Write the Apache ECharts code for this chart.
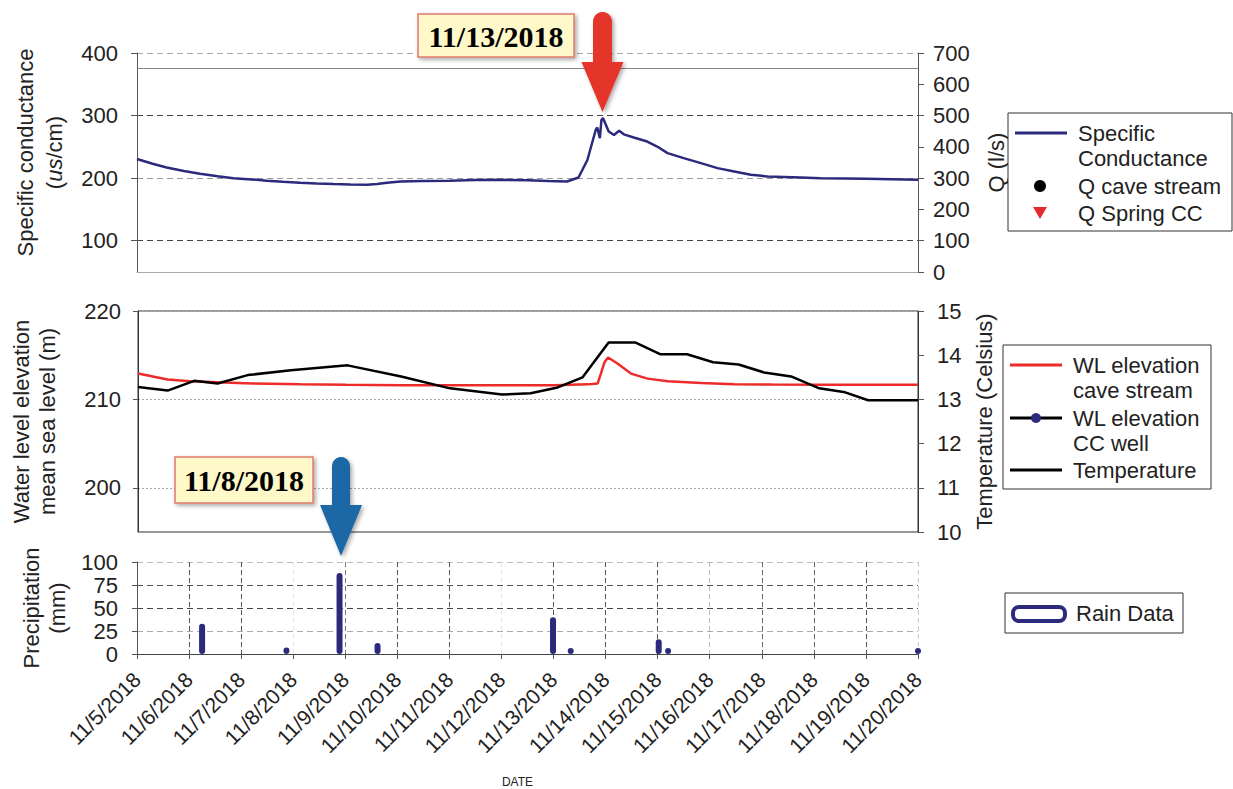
<!DOCTYPE html>
<html><head><meta charset="utf-8">
<script src="https://cdn.jsdelivr.net/npm/echarts@6/dist/echarts.min.js"></script>
<style>html,body{margin:0;padding:0;background:#fff}#c{width:1233px;height:789px}</style>
</head><body><div id="c"></div><script>
// ---------- DATA (x = day of November 2018, fractional) ----------
const xTickDays = [5,6,7,8,9,10,11,12,13,14,15,16,17,18,19,20];
const xTickLabels = ['11/5/2018','11/6/2018','11/7/2018','11/8/2018','11/9/2018','11/10/2018','11/11/2018','11/12/2018','11/13/2018','11/14/2018','11/15/2018','11/16/2018','11/17/2018','11/18/2018','11/19/2018','11/20/2018'];

const scDays   = [5.0, 5.3, 5.57, 5.9, 6.21, 6.55, 6.85, 7.2, 7.49, 7.8, 8.13, 8.45, 8.77, 9.1, 9.42, 9.61, 9.8, 10.06, 10.5, 11.0, 11.5, 11.98, 12.5, 12.9, 13.26, 13.48, 13.65, 13.81, 13.84, 13.89, 13.92, 13.95, 14.06, 14.16, 14.26, 14.35, 14.54, 14.8, 14.99, 15.19, 15.5, 15.83, 16.15, 16.47, 16.79, 17.11, 17.75, 18.13, 18.6, 19.0, 19.5, 20.0];
const scValues = [230.5, 223, 217, 211.5, 207, 203, 200, 198, 196, 194.2, 192.7, 191.5, 190.6, 190, 189.5, 190.6, 192.5, 194.7, 195.5, 196, 197, 197.5, 196.5, 195.5, 194.7, 201, 229, 277, 281, 264, 293, 296, 274.5, 269, 275.6, 270, 265, 258.5, 250.5, 240, 232, 224, 216, 210.7, 205.4, 202.7, 201, 200, 199.5, 199, 198.3, 197.5];
const scRefLine = 376;   // upper solid reference line in the top panel (us/cm)

const qCaveStream = [];   // no values shown
const qSpringCC = [];     // no values shown

const wlCaveDays   = [5.0, 5.57, 6.0, 6.53, 7.2, 8.13, 9.0, 10.06, 11.0, 12.0, 13.0, 13.65, 13.84, 13.9, 13.97, 14.04, 14.22, 14.48, 14.8, 15.19, 15.83, 16.47, 17.2, 18.13, 19.0, 20.0];
const wlCaveValues = [212.92, 212.24, 212.05, 211.93, 211.8, 211.7, 211.65, 211.6, 211.6, 211.6, 211.6, 211.7, 211.8, 212.9, 214.2, 214.74, 214.06, 212.92, 212.35, 212.05, 211.85, 211.7, 211.68, 211.67, 211.67, 211.67];
const wlCCWell = [];      // no values shown

const tempDays   = [5.0, 5.57, 6.08, 6.53, 7.11, 7.94, 9.03, 10.06, 11.0, 12.0, 12.55, 13.07, 13.55, 14.05, 14.56, 15.05, 15.56, 16.06, 16.55, 17.04, 17.56, 18.1, 18.6, 19.04, 20.0];
const tempValues = [13.28, 13.2, 13.42, 13.36, 13.55, 13.66, 13.77, 13.52, 13.25, 13.11, 13.14, 13.27, 13.5, 14.29, 14.29, 14.02, 14.02, 13.84, 13.79, 13.61, 13.52, 13.25, 13.16, 12.98, 12.98];

const rainDays   = [6.25, 7.87, 8.89, 9.62, 12.99, 13.33, 15.02, 15.2, 20.0];
const rainValues = [33, 7, 88, 12, 40, 1, 16, 1, 1];

const scTicks = [100, 200, 300, 400];
const wlTicks = [200, 210, 220];

// ---------- STYLE ----------
const FONT = 'Liberation Sans, Arial, sans-serif';
const SERIF = 'Liberation Serif, Times New Roman, serif';
const TXT = '#222';
const NAVY = '#2b2a7c';
const RED = '#ee2b2b';
const LABEL_SIZE = 22;

const zip = (a, b) => a.map((d, i) => [d, b[i]]);
const chart = echarts.init(document.getElementById('c'), null, {renderer: 'svg'});

function xAxisBase(grid) {
  return {gridIndex: grid, type: 'value', min: 5, max: 20, interval: 1,
    axisLabel: {show: false}, axisTick: {show: false}, splitLine: {show: false},
    axisLine: {show: true, onZero: false, lineStyle: {color: '#aaa'}}};
}
function txt(text, x, y, size) {
  return {type: 'text', silent: true, z: 50, style: {text: text, x: x, y: y,
    fontSize: size, fontFamily: FONT, fill: TXT, align: 'left', verticalAlign: 'middle',
    textAlign: 'left', textVerticalAlign: 'middle'}};
}
function hline(x1, x2, y, color, w) {
  return {type: 'line', silent: true, z: 50, shape: {x1: x1, y1: y, x2: x2, y2: y}, style: {stroke: color, lineWidth: w}};
}
function box(x, y, w, h) {
  return {type: 'rect', silent: true, z: 40, shape: {x: x, y: y, width: w, height: h}, style: {fill: '#fff', stroke: '#333', lineWidth: 1}};
}
// down-pointing block arrow outline with a rounded top (annotation shape)
function arrowPoints(cx, top, shaftW, headTop, headHalf, tip) {
  const r = shaftW / 2, pts = [];
  pts.push([cx - r, headTop]);
  for (let k = 0; k <= 12; k++) {
    const a = Math.PI - Math.PI * k / 12;
    pts.push([cx + r * Math.cos(a), top + r - r * Math.sin(a)]);
  }
  pts.push([cx + r, headTop], [cx + headHalf, headTop], [cx, tip], [cx - headHalf, headTop]);
  return pts;
}
function labelStyle(margin) {
  return {fontSize: LABEL_SIZE, fontFamily: FONT, color: TXT, margin: margin};
}

const shadow = {shadowBlur: 4, shadowColor: 'rgba(0,0,0,0.35)', shadowOffsetX: 2, shadowOffsetY: 2};

const option = {
  backgroundColor: '#fff',
  animation: false,
  grid: [
    {left: 137, right: 315, top: 53, height: 219},
    {left: 137, right: 315, top: 311, height: 221, show: true, borderColor: '#333', borderWidth: 1, backgroundColor: 'transparent'},
    {left: 137, right: 315, top: 562, height: 92}
  ],
  xAxis: [
    xAxisBase(0),
    Object.assign(xAxisBase(1), {axisLine: {show: true, onZero: false, lineStyle: {color: '#999'}}}),
    Object.assign(xAxisBase(2), {
      axisLine: {show: true, onZero: false, lineStyle: {color: '#444'}},
      axisTick: {show: true, length: 5, lineStyle: {color: '#555'}},
      axisLabel: {show: true, rotate: 45, margin: 22, fontSize: 21, fontFamily: FONT, color: TXT,
        formatter: v => xTickLabels[xTickDays.indexOf(v)] || ''},
      splitLine: {show: true, lineStyle: {type: [5, 3], width: 1,
        color: ['#555','#555','#555','#e6e6e6','#777','#555','#555','#e6e6e6','#555','#555','#555','#bbb','#666','#666','#555','#ccc']}},
      name: 'DATE', nameLocation: 'middle', nameGap: 122,
      nameTextStyle: {fontSize: 12, fontFamily: FONT, color: TXT, padding: [0, 20, 0, 0]}
    })
  ],
  yAxis: [
    {gridIndex: 0, type: 'value', position: 'left', min: 50, max: 400,
      axisLine: {show: true, lineStyle: {color: '#555'}},
      axisTick: {show: true, customValues: scTicks, length: 6, lineStyle: {color: '#555'}},
      axisLabel: Object.assign({customValues: scTicks}, labelStyle(19)),
      splitLine: {show: true, lineStyle: {type: [6, 4], color: ['#444', '#999', '#444', '#aaa']}},
      name: 'Specific conductance\n({it|us}/cm)', nameLocation: 'middle', nameRotate: 90, nameGap: 68,
      nameTextStyle: {fontSize: 22, fontFamily: FONT, color: TXT, lineHeight: 29, align: 'center', padding: [0, 0, 0, 20],
        rich: {it: {fontSize: 22, fontFamily: FONT, fontStyle: 'italic', color: TXT, lineHeight: 29}}}},
    {gridIndex: 0, type: 'value', position: 'right', min: 0, max: 700, interval: 100,
      axisLine: {show: true, lineStyle: {color: '#555'}},
      axisTick: {show: true, length: 6, lineStyle: {color: '#555'}},
      axisLabel: labelStyle(15),
      splitLine: {show: false},
      name: 'Q (l/s)', nameLocation: 'middle', nameRotate: 90, nameGap: 67,
      nameTextStyle: {fontSize: 22, fontFamily: FONT, color: TXT}},
    {gridIndex: 1, type: 'value', position: 'left', min: 195, max: 220,
      axisLine: {show: true, lineStyle: {color: '#333'}},
      axisTick: {show: true, customValues: wlTicks, length: 5, lineStyle: {color: '#555'}},
      axisLabel: Object.assign({customValues: wlTicks}, labelStyle(17)),
      splitLine: {show: true, lineStyle: {type: [2, 2], color: '#aaa'}},
      name: 'Water level elevation\nmean sea level (m)', nameLocation: 'middle', nameRotate: 90, nameGap: 78,
      nameTextStyle: {fontSize: 22, fontFamily: FONT, color: TXT, lineHeight: 26, align: 'center'}},
    {gridIndex: 1, type: 'value', position: 'right', min: 10, max: 15, interval: 1,
      axisLine: {show: true, lineStyle: {color: '#333'}},
      axisTick: {show: true, length: 6, lineStyle: {color: '#555'}},
      axisLabel: labelStyle(19),
      splitLine: {show: false},
      name: 'Temperature (Celsius)', nameLocation: 'middle', nameRotate: 90, nameGap: 55,
      nameTextStyle: {fontSize: 22, fontFamily: FONT, color: TXT}},
    {gridIndex: 2, type: 'value', position: 'left', min: 0, max: 100, interval: 25,
      axisLine: {show: true, lineStyle: {color: '#555'}},
      axisTick: {show: true, length: 5, lineStyle: {color: '#555'}},
      axisLabel: labelStyle(19),
      splitLine: {show: true, lineStyle: {type: [6, 4], color: ['#555', '#aaa', '#444', '#555', '#bbb']}},
      name: 'Precipitation\n(mm)', nameLocation: 'middle', nameRotate: 90, nameGap: 60,
      nameTextStyle: {fontSize: 22, fontFamily: FONT, color: TXT, lineHeight: 26, align: 'center'}}
  ],
  series: [
    {name: 'Specific Conductance', type: 'line', xAxisIndex: 0, yAxisIndex: 0, data: zip(scDays, scValues),
      showSymbol: false, lineStyle: {color: NAVY, width: 2.5}, z: 5,
      markLine: {silent: true, symbol: 'none', label: {show: false}, lineStyle: {color: '#888', type: 'solid', width: 1},
        data: [{yAxis: scRefLine}]}},
    {name: 'Q cave stream', type: 'scatter', xAxisIndex: 0, yAxisIndex: 1, data: qCaveStream, itemStyle: {color: '#000'}},
    {name: 'Q Spring CC', type: 'scatter', xAxisIndex: 0, yAxisIndex: 1, data: qSpringCC, symbol: 'triangle', symbolRotate: 180, itemStyle: {color: RED}},
    {name: 'WL elevation cave stream', type: 'line', xAxisIndex: 1, yAxisIndex: 2, data: zip(wlCaveDays, wlCaveValues),
      showSymbol: false, lineStyle: {color: RED, width: 2.5}, z: 4},
    {name: 'WL elevation CC well', type: 'line', xAxisIndex: 1, yAxisIndex: 2, data: wlCCWell,
      lineStyle: {color: '#000', width: 2.5}, itemStyle: {color: NAVY}},
    {name: 'Temperature', type: 'line', xAxisIndex: 1, yAxisIndex: 3, data: zip(tempDays, tempValues),
      showSymbol: false, lineStyle: {color: '#000', width: 2.5}, z: 5},
    {name: 'Rain Data', type: 'bar', xAxisIndex: 2, yAxisIndex: 4, data: zip(rainDays, rainValues),
      barWidth: 6, barMinHeight: 6, itemStyle: {color: NAVY, borderRadius: 3}, z: 5}
  ],
  graphic: [
    // annotation: red arrow + 11/13/2018 label
    {type: 'polygon', silent: true, z: 100, shape: {points: arrowPoints(602.5, 12, 19, 62, 21, 112)},
      style: Object.assign({fill: '#e5342a'}, shadow)},
    {type: 'rect', silent: true, z: 100, shape: {x: 418, y: 14, width: 156, height: 43},
      style: Object.assign({fill: '#fff8c8', stroke: '#e07a6c', lineWidth: 1.5}, shadow)},
    {type: 'text', silent: true, z: 101, style: {text: '11/13/2018', x: 496, y: 36, fontSize: 30, fontWeight: 'bold', fontFamily: SERIF,
      fill: '#000', align: 'center', verticalAlign: 'middle', textAlign: 'center', textVerticalAlign: 'middle'}},
    // annotation: blue arrow + 11/8/2018 label
    {type: 'polygon', silent: true, z: 100, shape: {points: arrowPoints(341, 457, 18, 505, 21, 556)},
      style: Object.assign({fill: '#1d67a7'}, shadow)},
    {type: 'rect', silent: true, z: 100, shape: {x: 175, y: 457, width: 138, height: 46},
      style: Object.assign({fill: '#fff8c8', stroke: '#e07a6c', lineWidth: 1.5}, shadow)},
    {type: 'text', silent: true, z: 101, style: {text: '11/8/2018', x: 244, y: 480, fontSize: 30, fontWeight: 'bold', fontFamily: SERIF,
      fill: '#000', align: 'center', verticalAlign: 'middle', textAlign: 'center', textVerticalAlign: 'middle'}},
    // legend 1
    box(1008, 113, 224, 118),
    hline(1015, 1067, 133, NAVY, 3),
    txt('Specific', 1078, 133, 22), txt('Conductance', 1078, 158, 22),
    {type: 'circle', silent: true, z: 50, shape: {cx: 1040, cy: 186, r: 6}, style: {fill: '#000'}},
    txt('Q cave stream', 1078, 186, 22),
    {type: 'polygon', silent: true, z: 50, shape: {points: [[1033, 207], [1047, 207], [1040, 219]]}, style: {fill: '#e52b2b'}},
    txt('Q Spring CC', 1078, 213, 22),
    // legend 2
    box(1003, 345, 208, 144),
    hline(1010, 1062, 365, RED, 3),
    txt('WL elevation', 1073, 365, 22), txt('cave stream', 1073, 390, 22),
    hline(1010, 1062, 418, '#000', 3),
    {type: 'circle', silent: true, z: 51, shape: {cx: 1036, cy: 418, r: 5}, style: {fill: NAVY}},
    txt('WL elevation', 1073, 418, 22), txt('CC well', 1073, 443, 22),
    hline(1010, 1062, 470, '#000', 3),
    txt('Temperature', 1073, 470, 22),
    // legend 3
    box(1005, 593, 178, 40),
    {type: 'rect', silent: true, z: 50, shape: {x: 1013, y: 607, width: 52, height: 14, r: 6}, style: {fill: '#fff', stroke: NAVY, lineWidth: 4}},
    txt('Rain Data', 1076, 613, 22)
  ]
};
chart.setOption(option);
</script></body></html>
